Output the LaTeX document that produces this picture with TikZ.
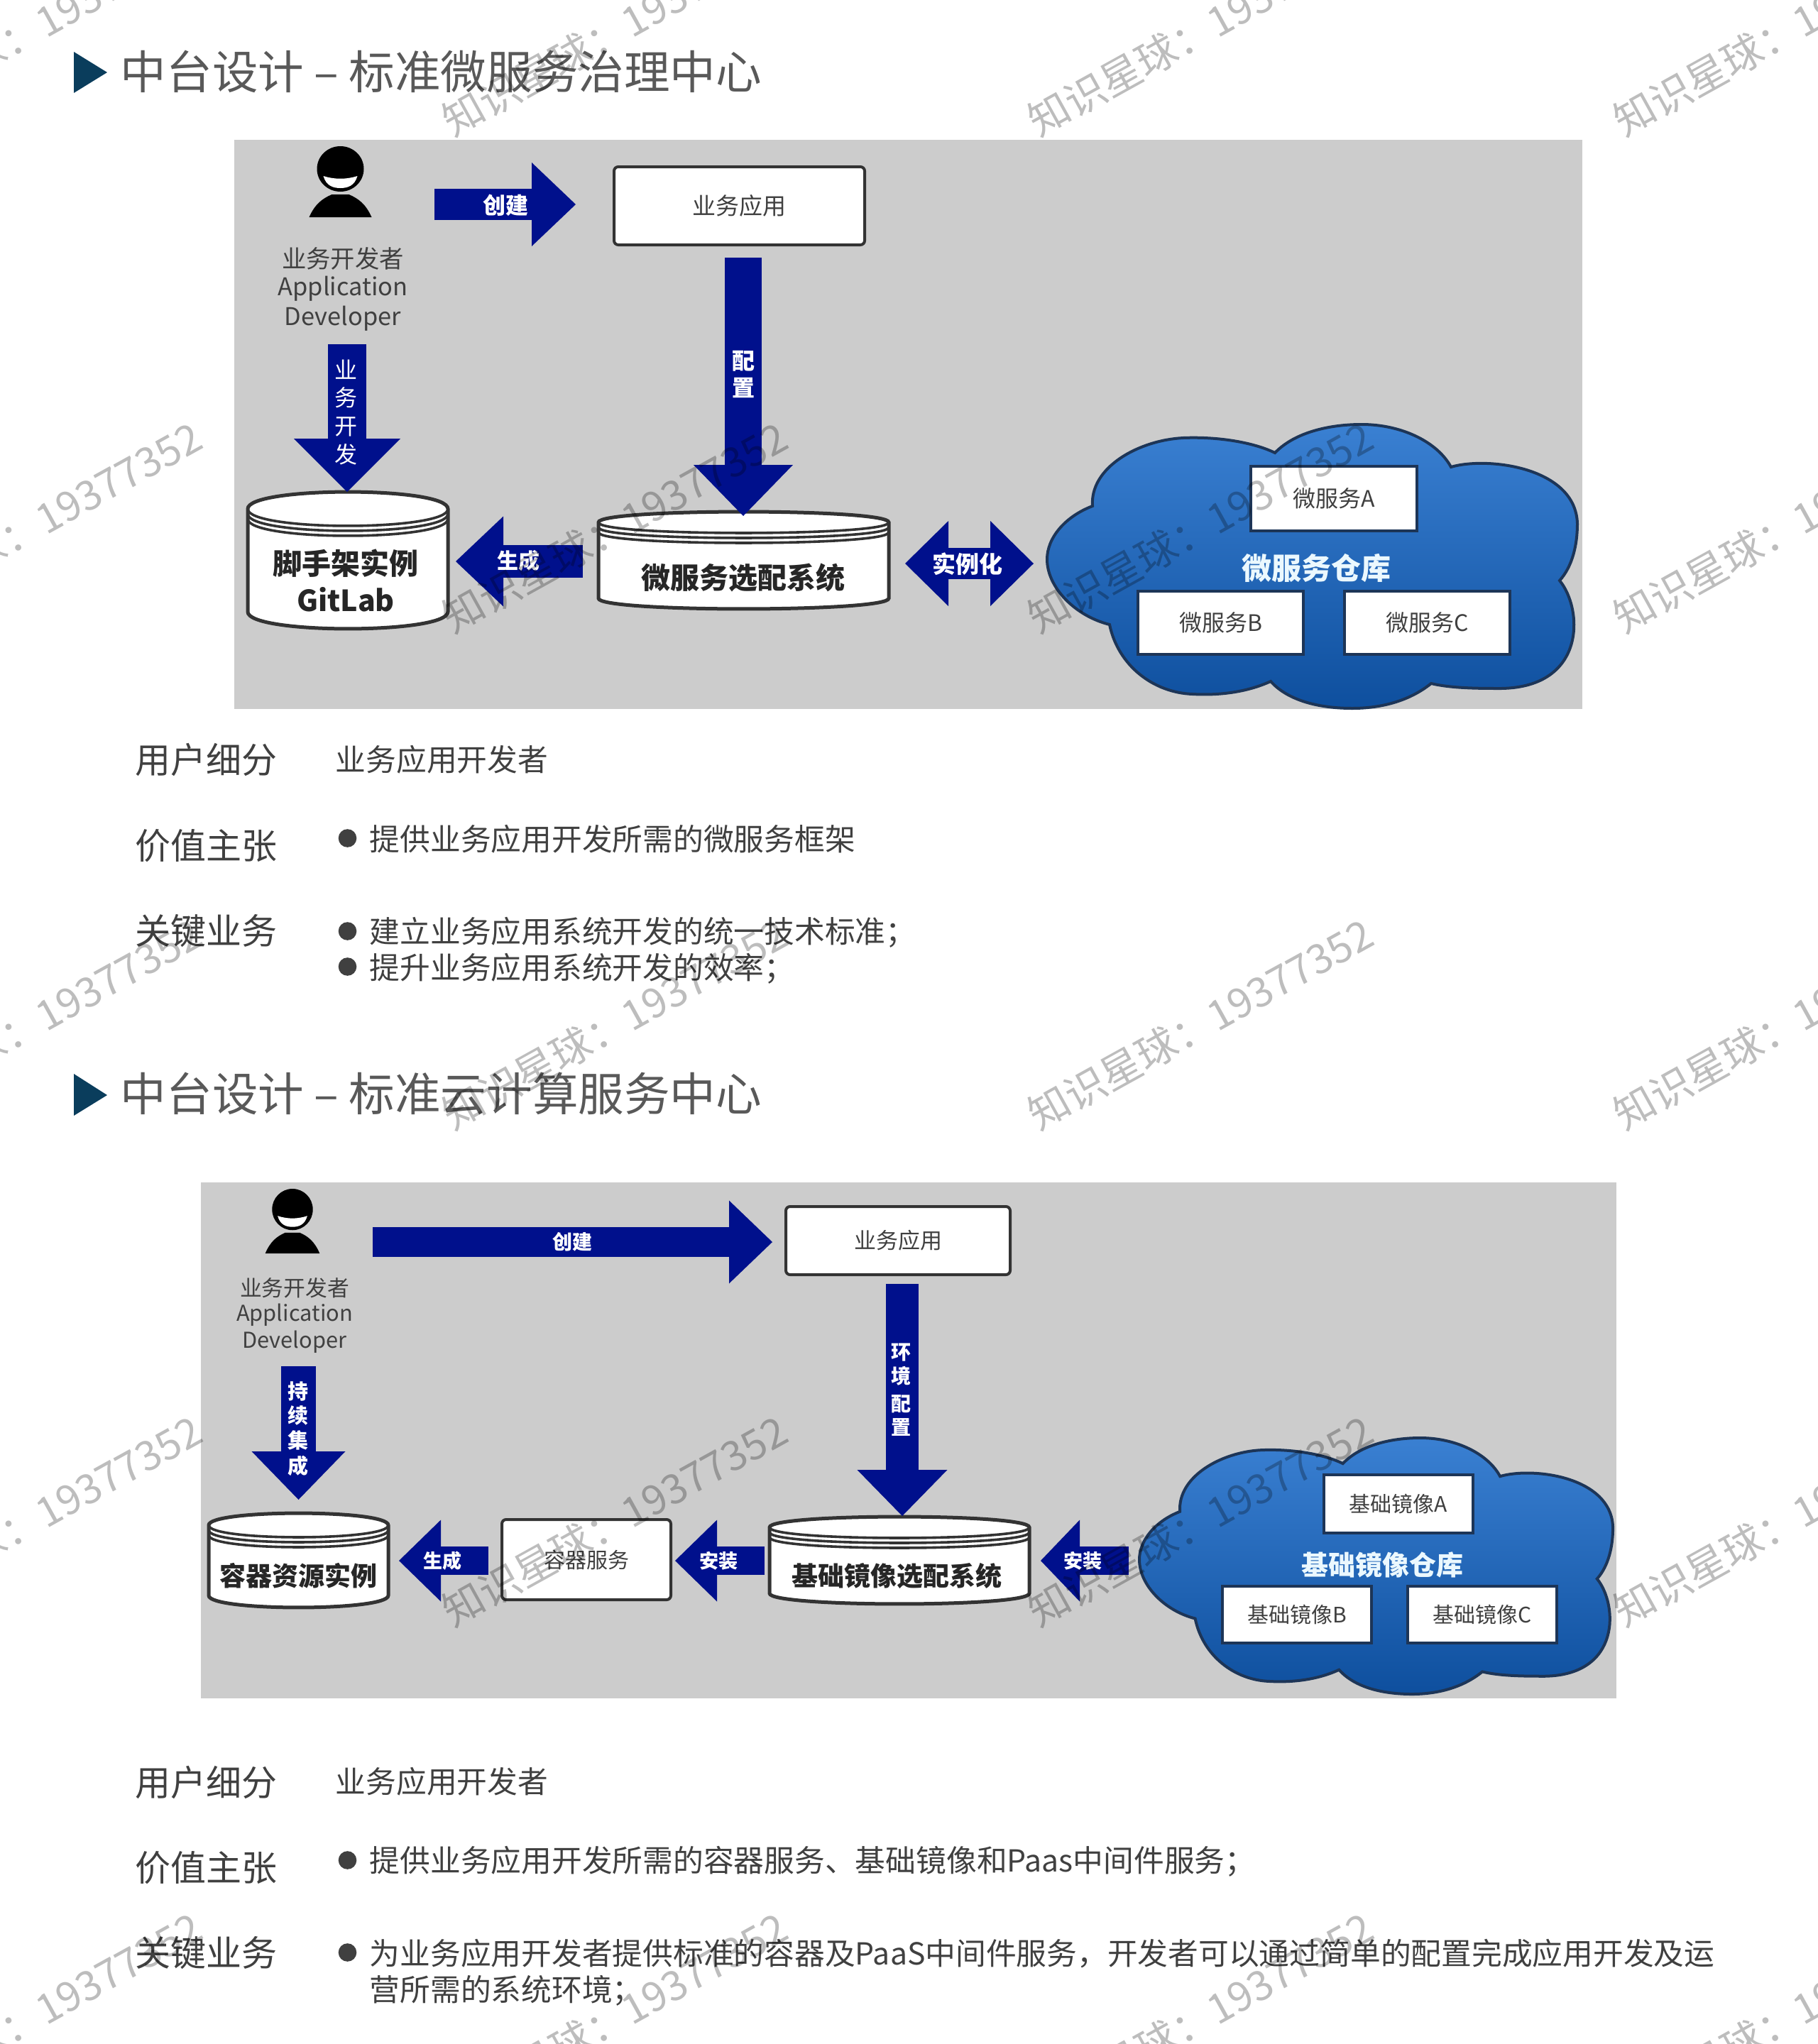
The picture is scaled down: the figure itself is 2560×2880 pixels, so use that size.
\documentclass[tikz,border=0pt]{standalone}
\usepackage{fontspec}
\setmainfont{Noto Sans CJK SC}
\usetikzlibrary{arrows.meta}
\definecolor{navy}{HTML}{00108C}
\definecolor{panelgray}{HTML}{CCCCCC}
\definecolor{ink}{HTML}{404040}
\definecolor{headink}{HTML}{595959}
\definecolor{marker}{HTML}{0A3D5C}
\definecolor{cloudtop}{HTML}{3A80D2}
\definecolor{cloudfoot}{HTML}{0E4F9E}
\definecolor{cloudrim}{HTML}{1D3557}
\newcommand{\pxfont}[1]{\fontsize{#1}{#1}\selectfont}
\tikzset{
  txt/.style={inner sep=0pt,text=ink,font=\pxfont{#1}},
  boldtxt/.style={inner sep=0pt,text=black!85,font=\pxfont{#1}\bfseries},
  onarrow/.style={inner sep=0pt,text=white,font=\pxfont{#1}\bfseries},
  heading/.style={inner sep=0pt,anchor=west,text=headink,font=\pxfont{16.15}},
  rowhead/.style={inner sep=0pt,anchor=west,text=ink,font=\pxfont{12.5}},
  rowtxt/.style={inner sep=0pt,anchor=west,text=ink,font=\pxfont{10.69}},
  appbox/.style n args={2}{draw=black!80,line width=1pt,rounded corners=1.5pt,fill=white,inner sep=0pt,text=ink,minimum width=#1pt,minimum height=#2pt},
  repobox/.style n args={2}{draw=cloudrim,line width=1pt,fill=white,inner sep=0pt,text=ink,minimum width=#1pt,minimum height=#2pt},
  flow/.style n args={3}{draw=navy,line width=#1pt,>={Triangle[length=#2pt,width=#3pt,line width=0pt]},->},
  drumline/.style={draw=black!80,line width=1.25pt},
  cloudfill/.style={top color=cloudtop,bottom color=cloudfoot,draw=cloudrim,line width=1pt},
  stamp/.style={rotate=29,text=black,text opacity=.26,inner sep=0pt,font=\pxfont{14.4}},
  devel/.pic={
    \fill[black] (0,32) ellipse [x radius=33,y radius=32];
    \fill[white] (-24,42) .. controls (-8,47) and (8,47) .. (24,42) .. controls (20,56) and (10,59) .. (0,59) .. controls (-10,59) and (-20,56) .. (-24,42) -- cycle;
    \fill[black] (-44,100) .. controls (-36,82) and (-26,74) .. (-12,68) -- (12,68) .. controls (26,74) and (36,82) .. (44,100) -- cycle;
  }
}
% left, right, lid centre, foot, rise
\newcommand{\drum}[5]{
  \draw[drumline,fill=white] (#1,#3) -- (#1,#4) .. controls (#1,{#4+1.33*#5}) and (#2,{#4+1.33*#5}) .. (#2,#4) -- (#2,#3) .. controls (#2,{#3-1.33*#5}) and (#1,{#3-1.33*#5}) .. (#1,#3) -- cycle;
  \foreach \rimgap in {0,7,14}
    \draw[drumline,line width=.9pt] (#1,{#3+\rimgap}) .. controls (#1,{#3+\rimgap+1.33*#5}) and (#2,{#3+\rimgap+1.33*#5}) .. (#2,{#3+\rimgap});
}
\newcommand{\cloudpath}{(321,40) .. controls (350,10) and (400,0) .. (443,0) .. controls (500,0) and (550,25) .. (569,60)
  .. controls (620,45) and (745,60) .. (747,140) .. controls (747,170) and (740,200) .. (722,220)
  .. controls (755,260) and (760,370) .. (640,372) .. controls (610,372) and (570,372) .. (541,365)
  .. controls (510,390) and (470,400) .. (430,400) .. controls (385,400) and (340,390) .. (315,362)
  .. controls (280,378) and (240,382) .. (205,380) .. controls (150,378) and (100,340) .. (88,282)
  .. controls (40,270) and (0,230) .. (0,190) .. controls (0,160) and (25,130) .. (64,115)
  .. controls (60,60) and (130,22) .. (192,19) .. controls (240,17) and (290,25) .. (321,40) -- cycle}
\begin{document}
\begin{tikzpicture}[x=.25pt,y=-.25pt]
\useasboundingbox (0,0) rectangle (2560,2880);
\fill[white] (0,0) rectangle (2560,2880);

% first section
\fill[marker] (104,73)--(151,102)--(104,131)--cycle;
\node[heading] (title1) at (169,101) {中台设计 – 标准微服务治理中心};
\fill[panelgray] (330,197) rectangle (2229,999);

\pic at (479.5,206) {devel};
\node[txt=8.6] (dev1zh) at (483,364) {业务开发者};
\node[txt=8.6] (dev1en) at (483,407) {Application};
\node[txt=8.6] (dev1en2) at (483,449) {Developer};

\node[appbox={88.25}{27.5},font=\pxfont{8.25}] (app1) at (1041.5,290) {业务应用};
\drum{349}{631}{717}{862}{24}
\node[boldtxt=10.25] (scaf1) at (487,794) {脚手架实例};
\node[boldtxt=10.25] (scaf2) at (487,845) {GitLab};
\drum{843}{1252}{736}{843}{15}
\node[boldtxt=10.25] (pick1) at (1047,814) {微服务选配系统};

\coordinate (a1) at (612,288);\coordinate (a2) at (811,288);
\draw[flow={11}{15.5}{29.5}] (a1)--(a2);
\node[onarrow=8] (lab1) at (712,289) {创建};
\coordinate (b1) at (1047,363);\coordinate (b2) at (1047,727);
\draw[flow={13}{18}{35}] (b1)--(b2);
\node[onarrow=8] (lab2a) at (1047,509) {配};\node[onarrow=8] (lab2b) at (1047,546) {置};
\coordinate (c1) at (489,485);\coordinate (c2) at (489,693);
\draw[flow={13.5}{18.75}{37.5}] (c1)--(c2);
\node[onarrow=8,font=\pxfont{8}] (lab3a) at (487,521) {业};\node[onarrow=8,font=\pxfont{8}] (lab3b) at (487,560) {务};
\node[onarrow=8,font=\pxfont{8}] (lab3c) at (487,601) {开};\node[onarrow=8,font=\pxfont{8}] (lab3d) at (487,640) {发};
\coordinate (d1) at (821,791);\coordinate (d2) at (642,791);
\draw[flow={11.5}{16.75}{31.75}] (d1)--(d2);
\node[onarrow=7.5] (lab4) at (730,790) {生成};
\coordinate (e1) at (1275,794);\coordinate (e2) at (1456,794);
\draw[flow={11}{15.25}{30},<->] (e1)--(e2);
\node[onarrow=8.25] (lab5) at (1363,795) {实例化};

\begin{scope}[shift={(1475,598)}]
\path[cloudfill] \cloudpath;
\end{scope}
\node[repobox={58.5}{22.75},font=\pxfont{8}] (svcA) at (1879,702.5) {微服务A};
\node[repobox={58.25}{22.25},font=\pxfont{8}] (svcB) at (1719.5,877.5) {微服务B};
\node[repobox={58.25}{22.25},font=\pxfont{8}] (svcC) at (2010.5,877.5) {微服务C};
\node[onarrow=10.5,text=cyan!8] (repo1) at (1854,800) {微服务仓库};

\node[rowhead] (seg1) at (190,1071) {用户细分};
\node[rowtxt] (seg1t) at (472,1070) {业务应用开发者};
\node[rowhead] (val1) at (190,1192) {价值主张};
\fill[ink] (489.5,1181) circle (3.2pt);
\node[rowtxt] (val1t) at (520,1182) {提供业务应用开发所需的微服务框架};
\node[rowhead] (key1) at (190,1312) {关键业务};
\fill[ink] (489.5,1312) circle (3.2pt);
\node[rowtxt] (key1t) at (520,1314) {建立业务应用系统开发的统一技术标准；};
\fill[ink] (489.5,1362) circle (3.2pt);
\node[rowtxt] (key1u) at (520,1365) {提升业务应用系统开发的效率；};

% second section
\fill[marker] (104,1513)--(151,1543)--(104,1572)--cycle;
\node[heading] (title2) at (169,1541) {中台设计 – 标准云计算服务中心};
\fill[panelgray] (283,1666) rectangle (2277,2393);

\pic[xscale=.87,yscale=.91] at (412,1675) {devel};
\node[txt=7.7] (dev2zh) at (415,1815) {业务开发者};
\node[txt=7.7] (dev2en) at (415,1853) {Application};
\node[txt=7.7] (dev2en2) at (415,1891) {Developer};

\node[appbox={79}{24},font=\pxfont{7.75}] (app2) at (1265,1748) {业务应用};
\node[appbox={59.5}{28.25},font=\pxfont{7.5}] (svc2) at (826,2197.5) {容器服务};
\drum{294}{547}{2149}{2248}{17}
\node[boldtxt=9.25] (res2) at (420,2220) {容器资源实例};
\drum{1084}{1450}{2152}{2245}{15}
\node[boldtxt=9.25] (pick2) at (1263,2220) {基础镜像选配系统};

\coordinate (f1) at (525,1750);\coordinate (f2) at (1088,1750);
\draw[flow={10.5}{15.25}{29.25}] (f1)--(f2);
\node[onarrow=7] (lab6) at (806,1750) {创建};
\coordinate (g1) at (1271,1809);\coordinate (g2) at (1271,2136);
\draw[flow={11.5}{16.25}{31.75}] (g1)--(g2);
\node[onarrow=7] (lab7a) at (1269,1906) {环};\node[onarrow=7] (lab7b) at (1269,1939) {境};
\node[onarrow=7] (lab7c) at (1269,1978) {配};\node[onarrow=7] (lab7d) at (1269,2011) {置};
\coordinate (h1) at (420.5,1925);\coordinate (h2) at (420.5,2113);
\draw[flow={12.25}{17}{33}] (h1)--(h2);
\node[onarrow=7.25] (lab8a) at (420,1960) {持};\node[onarrow=7.25] (lab8b) at (420,1994) {续};
\node[onarrow=7.25] (lab8c) at (420,2029) {集};\node[onarrow=7.25] (lab8d) at (420,2065) {成};
\coordinate (i1) at (688,2199);\coordinate (i2) at (562,2199);
\draw[flow={10}{14.75}{28.75}] (i1)--(i2);
\node[onarrow=6.75] (lab9) at (623,2199) {生成};
\coordinate (j1) at (1077,2199);\coordinate (j2) at (951,2199);
\draw[flow={10}{14.75}{28.75}] (j1)--(j2);
\node[onarrow=6.75] (lab10) at (1012,2199) {安装};
\coordinate (k1) at (1590,2199);\coordinate (k2) at (1466,2199);
\draw[flow={10}{13.75}{28.75}] (k1)--(k2);
\node[onarrow=6.75] (lab11) at (1525,2199) {安装};

\begin{scope}[shift={(1605,2026)},xscale=.893,yscale=.9025]
\path[cloudfill] \cloudpath;
\end{scope}
\node[repobox={52.5}{20.5},font=\pxfont{7.5}] (imgA) at (1970,2119) {基础镜像A};
\node[repobox={52.5}{20},font=\pxfont{7.5}] (imgB) at (1827,2275) {基础镜像B};
\node[repobox={52.5}{20},font=\pxfont{7.5}] (imgC) at (2088,2275) {基础镜像C};
\node[onarrow=9.5,text=cyan!8] (repo2) at (1947,2205) {基础镜像仓库};

\node[rowhead] (seg2) at (190,2511) {用户细分};
\node[rowtxt] (seg2t) at (472,2510) {业务应用开发者};
\node[rowhead] (val2) at (190,2632) {价值主张};
\fill[ink] (489.5,2621) circle (3.2pt);
\node[rowtxt] (val2t) at (520,2623) {提供业务应用开发所需的容器服务、基础镜像和Paas中间件服务；};
\node[rowhead] (key2) at (190,2752) {关键业务};
\fill[ink] (489.5,2751) circle (3.2pt);
\node[rowtxt] (key2t) at (520,2753) {为业务应用开发者提供标准的容器及PaaS中间件服务，开发者可以通过简单的配置完成应用开发及运};
\node[rowtxt] (key2u) at (520,2805) {营所需的系统环境；};

% stamps over everything
\foreach \sx in {41,866,1691,2516}
  \foreach \sy in {43,743,1443,2143,2843}
    \node[stamp] (stamp\sx-\sy) at (\sx,\sy) {知识星球：19377352};
\end{tikzpicture}
\end{document}
